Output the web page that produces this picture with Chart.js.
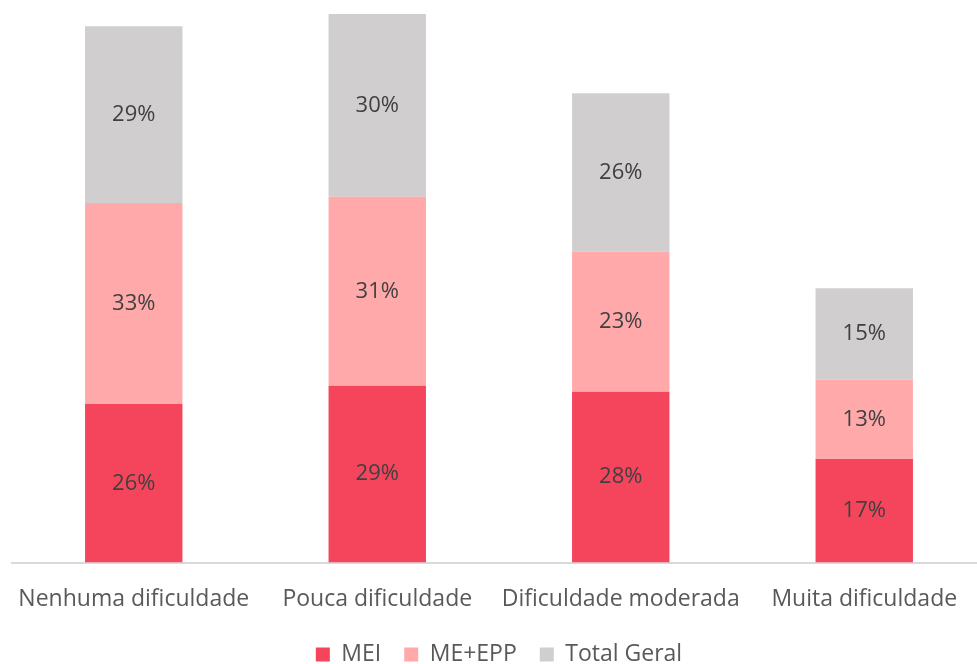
<!DOCTYPE html>
<html>
<head>
<meta charset="utf-8">
<script src="https://cdn.jsdelivr.net/npm/chart.js@4"></script>
<style>
  html, body { margin: 0; padding: 0; background: #fff; overflow: hidden; }
  #wrap { width: 986px; height: 664px; }
</style>
</head>
<body>
<div id="wrap"><canvas id="chart"></canvas></div>
<script>
const categories = ['Nenhuma dificuldade', 'Pouca dificuldade', 'Dificuldade moderada', 'Muita dificuldade'];
const mei = [26, 29, 28, 17];
const meEpp = [33, 31, 23, 13];
const totalGeral = [29, 30, 26, 15];

const FONT = "'Open Sans', sans-serif";

// percentage labels in the middle of each segment
const segmentLabels = {
    id: 'segmentLabels',
    afterDatasetsDraw(chart) {
        const ctx = chart.ctx;
        ctx.save();
        ctx.font = '22px ' + FONT;
        ctx.fillStyle = '#404040';
        ctx.textAlign = 'center';
        ctx.textBaseline = 'middle';
        chart.data.datasets.forEach((ds, i) => {
            chart.getDatasetMeta(i).data.forEach((bar, j) => {
                ctx.fillText(ds.data[j] + '%', bar.x, (bar.y + bar.base) / 2);
            });
        });
        ctx.restore();
    }
};

const ctx = document.getElementById('chart');
new Chart(ctx, {
    type: 'bar',
    data: {
        labels: categories,
        datasets: [
            { label: 'MEI', data: mei, backgroundColor: '#f4455c' },
            { label: 'ME+EPP', data: meEpp, backgroundColor: '#ffa9ab' },
            { label: 'Total Geral', data: totalGeral, backgroundColor: '#d0cecf' }
        ]
    },
    options: {
        responsive: true,
        maintainAspectRatio: false,
        animation: false,
        layout: { padding: { left: 12, right: 0, top: 0, bottom: -12 } },
        datasets: { bar: { barPercentage: 0.4, categoryPercentage: 1 } },
        scales: {
            x: {
                stacked: true,
                grid: { display: false },
                border: { color: '#d9d9d9', width: 2 },
                ticks: {
                    color: '#595959',
                    font: { family: FONT, size: 23, lineHeight: 1.5 },
                    padding: 12,
                    maxRotation: 0,
                    minRotation: 0,
                    autoSkip: false
                },
                afterFit(scale) {
                    scale.height -= 9;
                    scale.paddingLeft = 0;
                    scale.paddingRight = 0;
                }
            },
            y: {
                stacked: true,
                display: false,
                min: 0,
                max: 92.3
            }
        },
        plugins: {
            legend: {
                position: 'bottom',
                labels: {
                    color: '#595959',
                    font: { family: FONT, size: 23 },
                    boxWidth: 14,
                    boxHeight: 14,
                    padding: 23
                }
            },
            tooltip: { enabled: false }
        }
    },
    plugins: [segmentLabels]
});
</script>
</body>
</html>
